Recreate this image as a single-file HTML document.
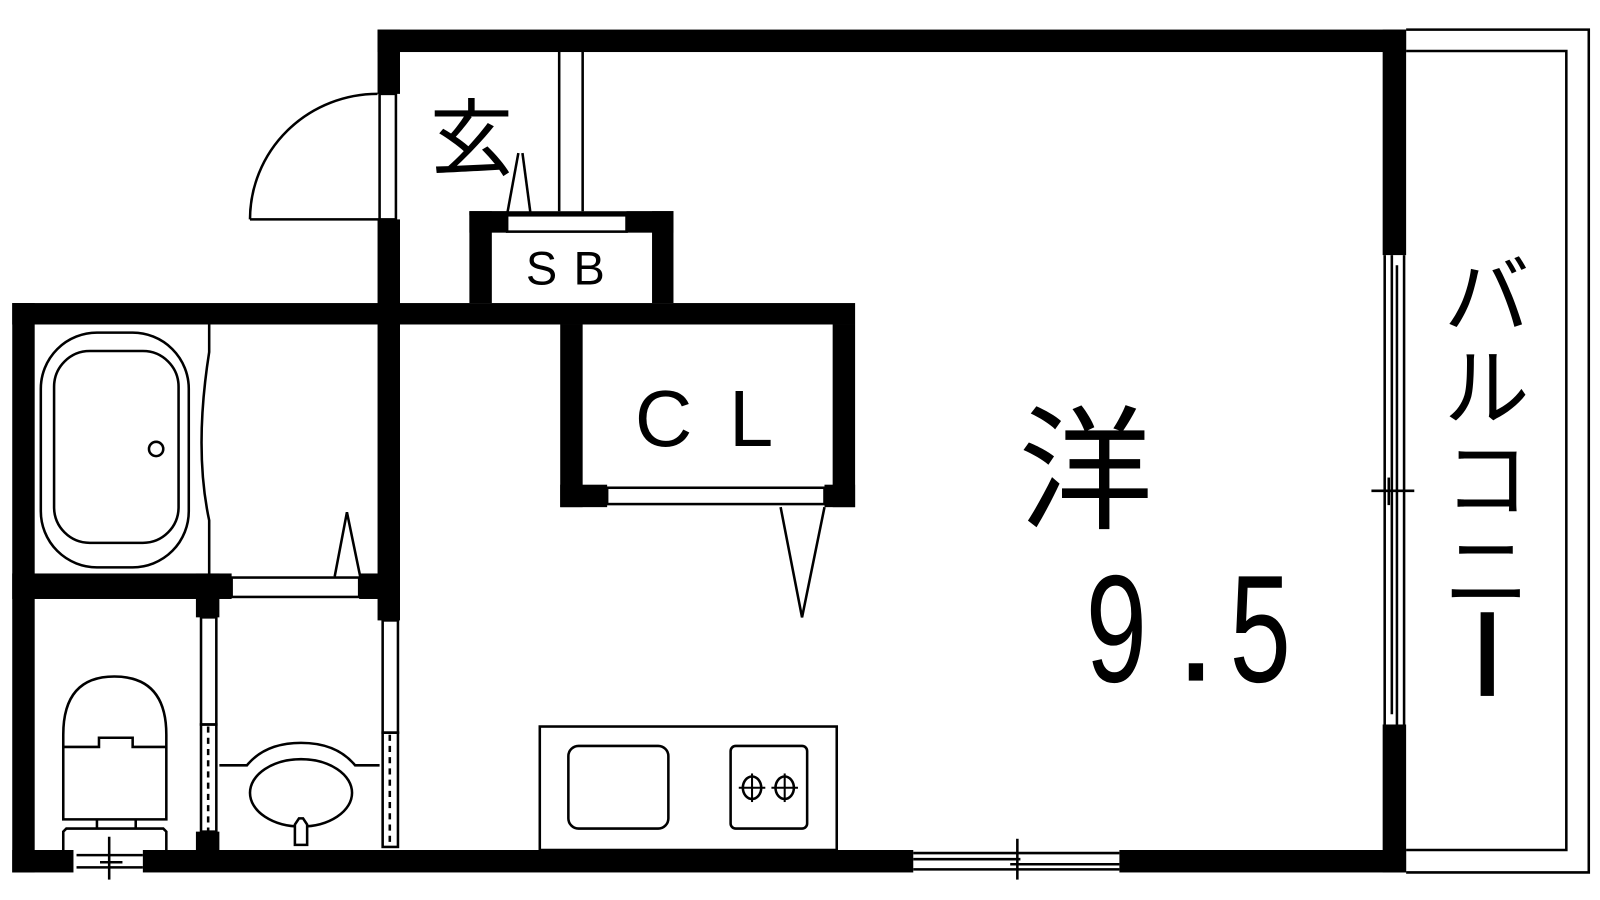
<!DOCTYPE html>
<html><head><meta charset="utf-8"><style>html,body{margin:0;padding:0;background:#fff}svg{display:block}</style></head><body>
<svg width="1600" height="900" viewBox="0 0 1568 882" xmlns="http://www.w3.org/2000/svg" font-family="Liberation Sans, Noto Sans CJK JP, sans-serif">
<g fill="#000">
<rect x="370" y="29" width="1008" height="22"/>
<rect x="1355" y="29" width="23" height="221"/>
<rect x="1355" y="710" width="23" height="145"/>
<rect x="12" y="833" width="60" height="22"/>
<rect x="140" y="833" width="755" height="22"/>
<rect x="1097" y="833" width="281" height="22"/>
<rect x="370" y="29" width="22" height="63"/>
<rect x="370" y="215" width="22" height="103"/>
<!-- SB -->
<rect x="460" y="207" width="22" height="90"/>
<rect x="639" y="207" width="21" height="90"/>
<rect x="460" y="207" width="37" height="21"/>
<rect x="614" y="207" width="46" height="21"/>
<rect x="460" y="207" width="200" height="4"/>
<rect x="12" y="297" width="826" height="21"/>
<rect x="549" y="318" width="22" height="179"/>
<rect x="816" y="318" width="22" height="179"/>
<rect x="549" y="475" width="46" height="22"/>
<rect x="808" y="475" width="30" height="22"/>
<rect x="12" y="297" width="22" height="558"/>
<rect x="12" y="562" width="215" height="25"/>
<rect x="352" y="562" width="40" height="25"/>
<rect x="192" y="562" width="23" height="43"/>
<rect x="192" y="815" width="23" height="20"/>
<rect x="370" y="318" width="22" height="290"/>
</g>
<g fill="#fff" stroke="#000" stroke-width="2.5">
<rect x="497" y="211" width="117" height="16"/>
<rect x="595" y="478" width="213" height="16"/>
<rect x="227" y="566" width="125" height="19"/>
<rect x="372" y="92" width="16" height="123"/>
</g>
<g fill="none" stroke="#000" stroke-width="2.5">
<path d="M245,215 A125,123 0 0 1 370,92"/>
<line x1="245" y1="215" x2="372" y2="215"/>
<polyline points="497,210 508,150"/>
<polyline points="512,150 520,210"/>
<line x1="548" y1="51" x2="548" y2="207"/>
<line x1="571" y1="51" x2="571" y2="207"/>
<polyline points="765,497 786,605 808,497"/>
<polyline points="328,565 340,502 353,565"/>
<rect x="40" y="326" width="145" height="230" rx="55"/>
<rect x="53" y="344" width="122" height="188" rx="35"/>
<circle cx="153" cy="440" r="7"/>
<path d="M205,318 V345 Q190,440 205,510 V562"/>
<path d="M62,803 V720 Q62,663 112,663 Q163,663 163,720 V803 Z"/>
<polyline points="62,732 97,732 97,723 130,723 130,732 163,732"/>
<line x1="95" y1="803" x2="95" y2="812"/>
<line x1="133" y1="803" x2="133" y2="812"/>
<path d="M62,833 V815 L65,812 H160 L163,815 V833"/>
<line x1="75" y1="838" x2="140" y2="838"/>
<line x1="75" y1="850" x2="140" y2="850"/>
<line x1="107" y1="820" x2="107" y2="862"/>
<line x1="98" y1="845" x2="120" y2="845"/>
<rect x="197" y="605" width="15" height="105"/>
<rect x="197" y="710" width="15" height="105"/>
<line x1="204" y1="712" x2="204" y2="815" stroke-dasharray="6,5"/>
<rect x="375" y="608" width="15" height="110"/>
<rect x="375" y="718" width="15" height="112"/>
<line x1="382" y1="720" x2="382" y2="830" stroke-dasharray="6,5"/>
<path d="M215,750 H242 Q260,728 295,728 Q330,728 348,750 H372"/>
<ellipse cx="295" cy="777" rx="50" ry="33"/>
<path d="M289,828 V808 L293,802 H297 L301,808 V828 Z" fill="#fff"/>
<rect x="529" y="712" width="291" height="121"/>
<rect x="557" y="731" width="98" height="81" rx="10"/>
<rect x="716" y="731" width="75" height="81" rx="5"/>
<ellipse cx="737" cy="772" rx="9" ry="11"/>
<ellipse cx="769" cy="772" rx="9" ry="11"/>
<g stroke-width="2"><line x1="724" y1="772" x2="750" y2="772"/><line x1="737" y1="758" x2="737" y2="786"/><line x1="756" y1="772" x2="782" y2="772"/><line x1="769" y1="758" x2="769" y2="786"/></g>
<line x1="895" y1="836" x2="1097" y2="836"/>
<line x1="895" y1="852" x2="1097" y2="852"/>
<line x1="895" y1="842" x2="1000" y2="842"/>
<line x1="990" y1="847" x2="1097" y2="847"/>
<line x1="997" y1="822" x2="997" y2="862"/>
<line x1="1357" y1="250" x2="1357" y2="710"/>
<line x1="1364" y1="250" x2="1364" y2="700"/>
<line x1="1369" y1="260" x2="1369" y2="710"/>
<line x1="1376" y1="250" x2="1376" y2="710"/>
<line x1="1344" y1="481" x2="1386" y2="481"/>
<line x1="1361" y1="468" x2="1361" y2="495"/>
<polyline points="1378,29 1557,29 1557,855 1378,855"/>
<polyline points="1378,50 1535,50 1535,833 1378,833"/>
</g>
<g fill="#000">
<text x="462" y="165" font-size="82" text-anchor="middle" font-family="Noto Sans CJK JP, sans-serif">玄</text>
<text x="562" y="279" font-size="46" text-anchor="middle" letter-spacing="16">SB</text>
<text x="708" y="437" font-size="78" text-anchor="middle" letter-spacing="36">CL</text>
<text x="1064" y="508" font-size="132" text-anchor="middle" font-family="Noto Sans CJK JP, sans-serif">洋</text>
<text transform="translate(1064,668) scale(0.72,1)" font-size="150">9</text>
<rect x="1165" y="650" width="14" height="17"/>
<text transform="translate(1205,668) scale(0.72,1)" font-size="150">5</text>
<g font-size="84" font-family="Noto Sans CJK JP, sans-serif" text-anchor="middle">
<text x="1457" y="320">バ</text>
<text x="1457" y="410">ル</text>
<text x="1457" y="500">コ</text>
<text x="1457" y="590">ニ</text>
</g>
<rect x="1451" y="600" width="13" height="82"/>
</g>
</svg>
</body></html>
